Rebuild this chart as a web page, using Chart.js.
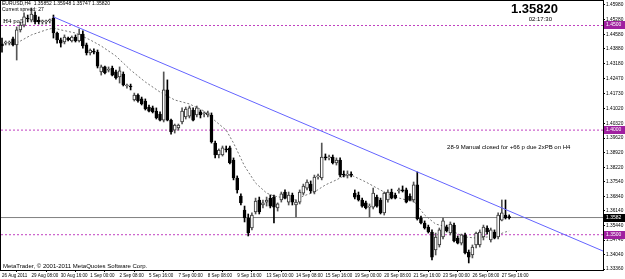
<!DOCTYPE html>
<html>
<head>
<meta charset="utf-8">
<script src="https://cdn.jsdelivr.net/npm/chart.js@4.4.0/dist/chart.umd.min.js"></script>
<style>
  html, body { margin: 0; padding: 0; background: #fff; }
  #chart { display: block; }
</style>
</head>
<body>
<canvas id="chart" width="625" height="279"></canvas>
<script>
// EURUSD H4 bars, 26 Aug 2011 00:00 .. 28 Sep 2011 00:00 (index 0 = first bar)
const opens = [
  1.4412, 1.4416, 1.4416, 1.4436, 1.4407, 1.4479, 1.4502, 1.4536, 1.4526, 1.4550,
  1.4526, 1.4517, 1.4517, 1.4522, 1.4536, 1.4464, 1.4431, 1.4421, 1.4440, 1.4426,
  1.4445, 1.4426, 1.4459, 1.4407, 1.4369, 1.4378, 1.4373, 1.4278, 1.4302, 1.4287,
  1.4297, 1.4278, 1.4254, 1.4268, 1.4211, 1.4211, 1.4144, 1.4168, 1.4149, 1.4139,
  1.4110, 1.4106, 1.4091, 1.4077, 1.4048, 1.4192, 1.4048, 1.4000, 1.4010, 1.4039,
  1.4063, 1.4067, 1.4096, 1.4072, 1.4087, 1.4077, 1.4072, 1.4072, 1.3938, 1.3881,
  1.3881, 1.3910, 1.3915, 1.3857, 1.3771, 1.3685, 1.3618, 1.3580, 1.3532, 1.3609,
  1.3666, 1.3642, 1.3656, 1.3675, 1.3680, 1.3628, 1.3666, 1.3704, 1.3656, 1.3690,
  1.3642, 1.3656, 1.3699, 1.3723, 1.3742, 1.3704, 1.3776, 1.3771, 1.3871, 1.3867,
  1.3871, 1.3843, 1.3857, 1.3790, 1.3785, 1.3790, 1.3699, 1.3690, 1.3666, 1.3652,
  1.3632, 1.3632, 1.3680, 1.3666, 1.3604, 1.3666, 1.3704, 1.3690, 1.3709, 1.3714,
  1.3714, 1.3685, 1.3666, 1.3738, 1.3580, 1.3556, 1.3537, 1.3513, 1.3427, 1.3451,
  1.3489, 1.3537, 1.3508, 1.3546, 1.3484, 1.3460, 1.3499, 1.3417, 1.3403, 1.3451,
  1.3451, 1.3489, 1.3532, 1.3475, 1.3513, 1.3489, 1.3570, 1.3594, 1.35852
]
const highs = [
  1.4440, 1.4426, 1.4426, 1.4445, 1.4493, 1.4517, 1.4560, 1.4550, 1.4584, 1.4565,
  1.4541, 1.4526, 1.4526, 1.4531, 1.4550, 1.4469, 1.4440, 1.4455, 1.4445, 1.4450,
  1.4455, 1.4483, 1.4474, 1.4416, 1.4388, 1.4388, 1.4383, 1.4311, 1.4306, 1.4302,
  1.4306, 1.4287, 1.4302, 1.4278, 1.4220, 1.4220, 1.4177, 1.4173, 1.4158, 1.4149,
  1.4120, 1.4115, 1.4106, 1.4087, 1.4278, 1.4240, 1.4053, 1.4029, 1.4029, 1.4106,
  1.4110, 1.4115, 1.4106, 1.4115, 1.4096, 1.4087, 1.4091, 1.4082, 1.3948, 1.3910,
  1.3924, 1.3924, 1.3924, 1.3867, 1.3781, 1.3695, 1.3637, 1.3599, 1.3604, 1.3675,
  1.3680, 1.3666, 1.3680, 1.3690, 1.3690, 1.3652, 1.3704, 1.3714, 1.3704, 1.3699,
  1.3666, 1.3714, 1.3742, 1.3762, 1.3757, 1.3785, 1.3790, 1.3938, 1.3886, 1.3881,
  1.3881, 1.3867, 1.3867, 1.3805, 1.3805, 1.3800, 1.3714, 1.3704, 1.3675, 1.3661,
  1.3647, 1.3723, 1.3690, 1.3675, 1.3704, 1.3714, 1.3718, 1.3699, 1.3723, 1.3733,
  1.3723, 1.3695, 1.3752, 1.3800, 1.3589, 1.3566, 1.3546, 1.3523, 1.3508, 1.3532,
  1.3580, 1.3546, 1.3561, 1.3556, 1.3494, 1.3503, 1.3508, 1.3427, 1.3451, 1.3513,
  1.3523, 1.3546, 1.3542, 1.3532, 1.3523, 1.3604, 1.3666, 1.3666, 1.35948
]
const lows = [
  1.4373, 1.4407, 1.4407, 1.4402, 1.4335, 1.4469, 1.4493, 1.4517, 1.4517, 1.4507,
  1.4507, 1.4507, 1.4507, 1.4512, 1.4440, 1.4416, 1.4397, 1.4412, 1.4426, 1.4421,
  1.4421, 1.4421, 1.4392, 1.4359, 1.4359, 1.4364, 1.4297, 1.4263, 1.4268, 1.4278,
  1.4259, 1.4244, 1.4225, 1.4211, 1.4201, 1.4192, 1.4139, 1.4134, 1.4120, 1.4096,
  1.4087, 1.4082, 1.4053, 1.4044, 1.4039, 1.4044, 1.3981, 1.3986, 1.4000, 1.4029,
  1.4053, 1.4058, 1.4044, 1.4063, 1.4058, 1.4063, 1.4063, 1.3938, 1.3867, 1.3867,
  1.3876, 1.3895, 1.3838, 1.3762, 1.3699, 1.3642, 1.3561, 1.3494, 1.3523, 1.3599,
  1.3599, 1.3628, 1.3637, 1.3628, 1.3556, 1.3613, 1.3656, 1.3671, 1.3642, 1.3642,
  1.3585, 1.3647, 1.3690, 1.3714, 1.3699, 1.3695, 1.3766, 1.3762, 1.3857, 1.3857,
  1.3838, 1.3833, 1.3776, 1.3776, 1.3771, 1.3776, 1.3671, 1.3661, 1.3632, 1.3623,
  1.3585, 1.3623, 1.3632, 1.3599, 1.3594, 1.3656, 1.3671, 1.3671, 1.3699, 1.3704,
  1.3652, 1.3661, 1.3656, 1.3570, 1.3551, 1.3527, 1.3508, 1.3379, 1.3403, 1.3441,
  1.3480, 1.3513, 1.3499, 1.3465, 1.3456, 1.3451, 1.3408, 1.3365, 1.3389, 1.3437,
  1.3441, 1.3475, 1.3503, 1.3465, 1.3480, 1.3480, 1.3566, 1.3575, 1.35747
]
const closes = [
  1.4402, 1.4416, 1.4421, 1.4407, 1.4479, 1.4502, 1.4541, 1.4531, 1.4555, 1.4517,
  1.4517, 1.4517, 1.4522, 1.4522, 1.4464, 1.4431, 1.4416, 1.4445, 1.4431, 1.4445,
  1.4426, 1.4459, 1.4402, 1.4369, 1.4383, 1.4373, 1.4306, 1.4302, 1.4273, 1.4292,
  1.4263, 1.4249, 1.4283, 1.4216, 1.4211, 1.4206, 1.4168, 1.4139, 1.4125, 1.4101,
  1.4091, 1.4087, 1.4058, 1.4048, 1.4192, 1.4048, 1.3991, 1.4024, 1.4024, 1.4091,
  1.4101, 1.4106, 1.4048, 1.4106, 1.4072, 1.4077, 1.4082, 1.3943, 1.3881, 1.3905,
  1.3915, 1.3905, 1.3843, 1.3771, 1.3714, 1.3652, 1.3580, 1.3508, 1.3594, 1.3661,
  1.3609, 1.3652, 1.3666, 1.3637, 1.3632, 1.3647, 1.3695, 1.3675, 1.3690, 1.3656,
  1.3656, 1.3704, 1.3733, 1.3752, 1.3709, 1.3776, 1.3781, 1.3871, 1.3867, 1.3871,
  1.3843, 1.3857, 1.3785, 1.3785, 1.3790, 1.3785, 1.3680, 1.3666, 1.3637, 1.3628,
  1.3637, 1.3699, 1.3637, 1.3604, 1.3699, 1.3704, 1.3675, 1.3675, 1.3714, 1.3709,
  1.3656, 1.3666, 1.3738, 1.3575, 1.3556, 1.3532, 1.3513, 1.3393, 1.3489, 1.3523,
  1.3566, 1.3518, 1.3551, 1.3470, 1.3460, 1.3499, 1.3413, 1.3393, 1.3441, 1.3508,
  1.3513, 1.3537, 1.3513, 1.3523, 1.3484, 1.3594, 1.3604, 1.3580, 1.35820
]

// dotted moving average, read at these bar indices
const maIndex = [4, 8, 12, 14, 16, 20, 24, 27, 31, 35, 39, 43, 47, 51, 55, 58, 61, 63, 66, 69,
  72, 74, 77, 80, 82, 85, 88, 91, 93, 95, 99, 102, 104, 107, 110, 112, 115, 118, 121, 123,
  126, 129, 132, 134, 137, 138]
const maValues = [1.4416, 1.4455, 1.4479, 1.4488, 1.4479, 1.4464, 1.4431, 1.4402, 1.4354, 1.4287,
  1.4230, 1.4182, 1.4144, 1.4125, 1.4091, 1.4044, 1.4000, 1.3938, 1.3828, 1.3747,
  1.3699, 1.3685, 1.3675, 1.3666, 1.3685, 1.3704, 1.3738, 1.3762, 1.3781, 1.3785,
  1.3752, 1.3723, 1.3704, 1.3680, 1.3666, 1.3661, 1.3594, 1.3551, 1.3537, 1.3513,
  1.3489, 1.3484, 1.3489, 1.3494, 1.3513, 1.3518]

// blue trendline end points
const trendIndex = [14, 163.53]
const trendValues = [1.4541, 1.3422]

// horizontal levels
const levelValues = [1.4500, 1.4000, 1.3500]
const levelLabels = ['1.4500', '1.4000', '1.3500']
const bidValue = 1.3582
const bidLabel = '1.3582'

const yTickLabels = ['1.45980', '1.45280', '1.44580', '1.43880', '1.43180', '1.42470', '1.41730',
  '1.41020', '1.40320', '1.39620', '1.38920', '1.38220', '1.37540', '1.36840', '1.36140',
  '1.35440', '1.34740', '1.34040', '1.33360']
const xLabelIndex = [0, 8, 16, 24, 32, 40, 48, 56, 64, 72, 80, 88, 96, 104, 112, 120, 128, 136]
const xLabels = ['26 Aug 2011', '29 Aug 08:00', '30 Aug 16:00', '1 Sep 00:00', '2 Sep 08:00',
  '5 Sep 16:00', '7 Sep 00:00', '8 Sep 08:00', '9 Sep 16:00', '13 Sep 00:00', '14 Sep 08:00',
  '15 Sep 16:00', '19 Sep 00:00', '20 Sep 08:00', '21 Sep 16:00', '23 Sep 00:00',
  '26 Sep 08:00', '27 Sep 16:00']

const headerText = 'EURUSD,H4  1.35852 1.35948 1.35747 1.35820'
const spreadText = 'Current spread: 27'
const levelName = 'H4 pa5'
const commentText = '28-9 Manual closed for +66 p due 2xPB on H4'
const footerText = 'MetaTrader, \u00A9 2001-2011 MetaQuotes Software Corp.'
const priceText = '1.35820'
const timerText = '02:17:30'

const X_MIN = -0.27
const X_MAX = 163.53
const FONT = '"Liberation Sans", Arial, sans-serif'

Chart.defaults.font.family = FONT

const isUp = i => closes[i] >= opens[i]

const wickData = opens.map((o, i) => ({ x: i, y: [lows[i], highs[i]] }))
const bodyData = opens.map((o, i) => ({ x: i, y: [o, closes[i]] }))

const levelSets = levelValues.map(v => ({
  type: 'line',
  data: [{ x: X_MIN, y: v }, { x: X_MAX, y: v }],
  borderColor: '#c040c0',
  borderWidth: 1,
  borderDash: [2, 2],
  pointRadius: 0,
  order: 5
}))

const overlay = {
  id: 'overlay',
  afterDraw (chart) {
    const { ctx, chartArea: a, scales: { x, y } } = chart
    ctx.save()
    ctx.strokeStyle = '#000'
    ctx.lineWidth = 1
    ctx.strokeRect(a.left - 0.5, a.top - 0.5, a.right - a.left + 1, a.bottom - a.top + 1)

    // price boxes on the axis
    ctx.font = '5px ' + FONT
    ctx.textBaseline = 'middle'
    levelValues.forEach((v, i) => {
      const py = Math.round(y.getPixelForValue(v))
      ctx.fillStyle = '#a020a0'
      ctx.fillRect(a.right + 1, py - 4, 625 - a.right, 8)
      ctx.fillStyle = '#fff'
      ctx.fillText(levelLabels[i], a.right + 3, py)
    })
    const by = Math.round(y.getPixelForValue(bidValue))
    ctx.fillStyle = '#000'
    ctx.fillRect(a.right + 1, by - 4, 625 - a.right, 8)
    ctx.fillStyle = '#fff'
    ctx.fillText(bidLabel, a.right + 3, by)

    ctx.fillStyle = '#000'
    ctx.textBaseline = 'top'
    ctx.font = '5px ' + FONT
    ctx.fillText(headerText, 2, 1)
    ctx.fillText(spreadText, 2, 7)

    ctx.font = '7px "Liberation Serif", serif'
    ctx.fillText(levelName, 3, y.getPixelForValue(levelValues[0]) - 8)

    ctx.font = '6px ' + FONT
    ctx.fillText(commentText, x.getPixelForValue(121.1), y.getPixelForValue(1.3934))
    ctx.fillText(footerText, 3, a.bottom - 7)

    ctx.textAlign = 'right'
    ctx.font = 'bold 13px ' + FONT
    ctx.fillText(priceText, 558, 3)
    ctx.font = '6px ' + FONT
    ctx.fillText(timerText, 552, 16)
    ctx.restore()
  }
}

new Chart(document.getElementById('chart'), {
  type: 'bar',
  data: {
    datasets: [
      {
        type: 'line',
        data: trendIndex.map((v, i) => ({ x: v, y: trendValues[i] })),
        borderColor: '#6464ff',
        borderWidth: 1,
        pointRadius: 0,
        order: 0
      },
      {
        data: bodyData,
        backgroundColor: c => isUp(c.dataIndex) ? '#ffffff' : '#000000',
        borderColor: c => isUp(c.dataIndex) ? '#333333' : '#000000',
        borderWidth: 1,
        borderSkipped: false,
        barThickness: 3,
        minBarLength: 1,
        grouped: false,
        order: 1
      },
      {
        data: wickData,
        backgroundColor: c => isUp(c.dataIndex) ? '#555555' : '#000000',
        borderWidth: 0,
        barThickness: 1,
        grouped: false,
        order: 2
      },
      {
        type: 'line',
        data: maIndex.map((v, i) => ({ x: v, y: maValues[i] })),
        borderColor: '#777777',
        borderWidth: 1,
        borderDash: [2, 2],
        pointRadius: 0,
        order: 3
      },
      {
        type: 'line',
        data: [{ x: X_MIN, y: bidValue }, { x: X_MAX, y: bidValue }],
        borderColor: '#808080',
        borderWidth: 1,
        pointRadius: 0,
        order: 4
      },
      ...levelSets
    ]
  },
  options: {
    responsive: false,
    animation: false,
    devicePixelRatio: 1,
    layout: { padding: { left: 1, top: 1, right: 0, bottom: 0 } },
    plugins: { legend: { display: false }, tooltip: { enabled: false } },
    scales: {
      x: {
        type: 'linear',
        min: X_MIN,
        max: X_MAX,
        offset: false,
        afterFit (s) { s.height = 9; s.paddingLeft = 0; s.paddingRight = 0 },
        afterBuildTicks (s) { s.ticks = xLabelIndex.map(v => ({ value: v })) },
        ticks: {
          autoSkip: false,
          maxRotation: 0,
          minRotation: 0,
          align: 'start',
          padding: 1,
          color: '#000',
          font: { size: 4.5 },
          callback: (v, i) => xLabels[i]
        },
        grid: { drawOnChartArea: false, tickLength: 2, color: '#000' },
        border: { display: false }
      },
      y: {
        position: 'right',
        min: 1.33313,
        max: 1.46171,
        afterFit (s) { s.width = 22; s.paddingTop = 0; s.paddingBottom = 0 },
        afterBuildTicks (s) { s.ticks = yTickLabels.map(t => ({ value: parseFloat(t) })) },
        ticks: {
          autoSkip: false,
          padding: 1,
          color: '#000',
          font: { size: 4.8 },
          callback: (v, i) => yTickLabels[i]
        },
        grid: { drawOnChartArea: false, tickLength: 2, color: '#000' },
        border: { display: false }
      }
    }
  },
  plugins: [overlay]
})
</script>
</body>
</html>
